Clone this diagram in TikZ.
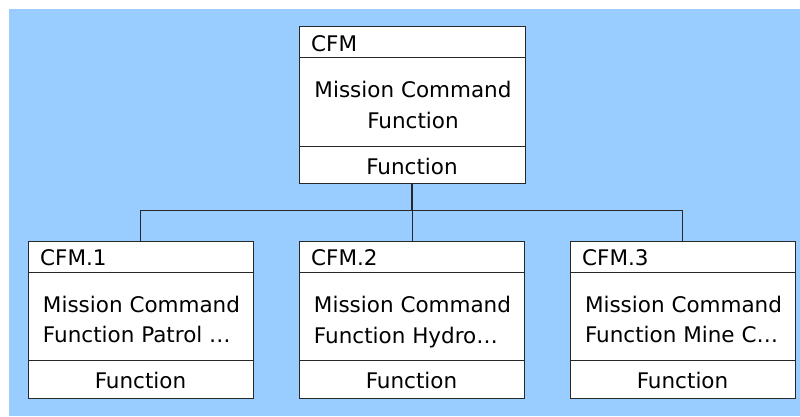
\documentclass[tikz,border=0pt]{standalone}
\usepackage{fontspec}
\setmainfont{DejaVu Sans}
\definecolor{skyback}{RGB}{153,204,255}
\definecolor{edgegray}{RGB}{40,40,40}
\begin{document}
\begin{tikzpicture}[x=1pt,y=-1pt,
  txt/.style={inner sep=0pt,font=\fontsize{21.5}{30.5}\selectfont},
  cell/.style={draw=edgegray,line width=0.9pt,fill=white},
  rule/.style={draw=edgegray,line width=0.7pt},
  link/.style={draw=edgegray,line width=0.8pt}]
\useasboundingbox (0,0) rectangle (800,416);
\fill[skyback] (9,9) rectangle (800,416);

% parent block
\path[cell] (299,26) rectangle (525,183);
\draw[rule] (299,57) -- (525,57);
\draw[rule] (299,146) -- (525,146);
\node[draw=none,inner sep=0pt,minimum width=226pt,minimum height=157pt] (top) at (412,104.5) {};
\node[txt,anchor=base west] (topid) at (311,51) {CFM};
\node[txt,align=center] (topname) at (413,105) {Mission Command\\Function};
\node[txt,anchor=base] (topkind) at (412,174) {Function};

% child blocks
\foreach \n/\x/\dy/\label in {1/28/319.5/Function Patrol \ldots,2/299/322/Function Hydro\ldots,3/570/319.5/Function Mine C\ldots}{
  \path[cell] (\x,241) rectangle ++(225,157);
  \draw[rule] (\x,272) -- ++(225,0);
  \draw[rule] (\x,360) -- ++(225,0);
  \node[draw=none,inner sep=0pt,minimum width=225pt,minimum height=157pt] (c\n) at (\x+112.5,319.5) {};
  \node[txt,anchor=base west] (c\n id) at (\x+12,265) {CFM.\n};
  \node[txt,align=left] (c\n name) at (\x+113.5,\dy) {Mission Command\\\label};
  \node[txt,anchor=base] (c\n kind) at (\x+112.5,388) {Function};
}

% tree connectors
\coordinate (bus) at (412,210.5);
\draw[link,line width=1.2pt] (top.south) -- (bus);
\draw[link] (bus) -| (c1.north);
\draw[link] (bus) -- (bus |- c2.north);
\draw[link] (bus) -| (c3.north);
\end{tikzpicture}
\end{document}
